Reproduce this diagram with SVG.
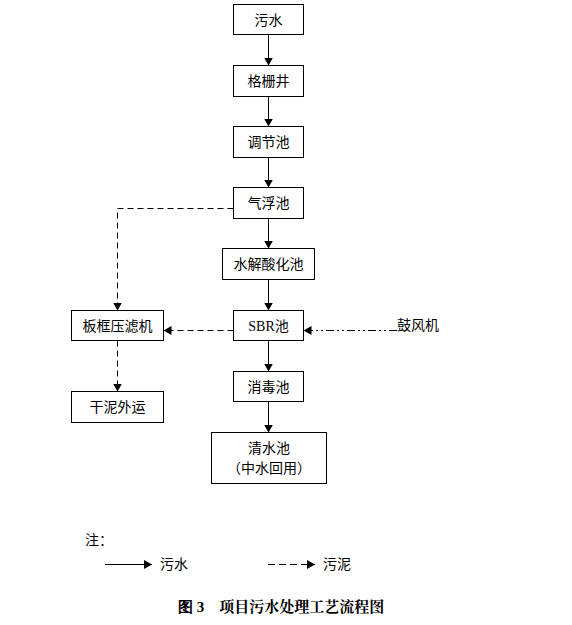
<svg xmlns="http://www.w3.org/2000/svg" width="572" height="625" viewBox="0 0 572 625">
<style>
.box{fill:#fff;stroke:#000;stroke-width:1}
.t{font-family:"Noto Sans CJK SC","Noto Sans",sans-serif;font-size:14px;fill:#000;text-anchor:middle}
.s{stroke:#000;stroke-width:1;fill:none}
.d{stroke:#000;stroke-width:1;fill:none;stroke-dasharray:6,4}
.dd{stroke:#000;stroke-width:1;fill:none;stroke-dasharray:8,3,2,3,2,3}
</style>
<defs>
<marker id="a" markerWidth="9" markerHeight="9" refX="8" refY="4.5" orient="auto" markerUnits="userSpaceOnUse">
<path d="M0,0 L8,4.5 L0,9 Z" fill="#000"/>
</marker>
</defs>
<rect width="572" height="625" fill="#fff"/>
<g id="n1"><rect class="box" x="233.5" y="4.5" width="70" height="30"/><text class="t" x="268.5" y="24.5">污水</text></g>
<g id="n2"><rect class="box" x="233.5" y="65.5" width="70" height="31"/><text class="t" x="268.5" y="86">格栅井</text></g>
<g id="n3"><rect class="box" x="233.5" y="126.5" width="70" height="31"/><text class="t" x="268.5" y="147">调节池</text></g>
<g id="n4"><rect class="box" x="233.5" y="187.5" width="70" height="31"/><text class="t" x="268.5" y="208">气浮池</text></g>
<g id="n5"><rect class="box" x="222.5" y="248.5" width="92" height="31"/><text class="t" x="268.5" y="269">水解酸化池</text></g>
<g id="n6"><rect class="box" x="233.5" y="310.5" width="70" height="30"/><text class="t" x="268.5" y="330.5"><tspan font-family="Liberation Serif,serif">SBR</tspan>池</text></g>
<g id="n7"><rect class="box" x="71.5" y="310.5" width="92" height="30"/><text class="t" x="117.5" y="330.5">板框压滤机</text></g>
<g id="n8"><rect class="box" x="71.5" y="391.5" width="92" height="31"/><text class="t" x="117.5" y="412">干泥外运</text></g>
<g id="n9"><rect class="box" x="233.5" y="371.5" width="70" height="30"/><text class="t" x="268.5" y="391.5">消毒池</text></g>
<g id="n10"><rect class="box" x="211.5" y="432.5" width="115" height="51"/><text class="t" x="269" y="453">清水池</text><text class="t" x="269" y="473">（中水回用）</text></g>
<g id="n11"><text class="t" x="418" y="330" style="text-anchor:middle">鼓风机</text></g>
<g id="connectors">
<line class="s" x1="268.5" y1="34.5" x2="268.5" y2="65.5" marker-end="url(#a)"/>
<line class="s" x1="268.5" y1="96.5" x2="268.5" y2="126.5" marker-end="url(#a)"/>
<line class="s" x1="268.5" y1="157.5" x2="268.5" y2="187.5" marker-end="url(#a)"/>
<line class="s" x1="268.5" y1="218.5" x2="268.5" y2="248.5" marker-end="url(#a)"/>
<line class="s" x1="268.5" y1="279.5" x2="268.5" y2="310.5" marker-end="url(#a)"/>
<line class="s" x1="268.5" y1="340.5" x2="268.5" y2="371.5" marker-end="url(#a)"/>
<line class="s" x1="268.5" y1="401.5" x2="268.5" y2="432.5" marker-end="url(#a)"/>
<polyline class="d" points="233.5,208.5 117.5,208.5 117.5,310.5" marker-end="url(#a)"/>
<line class="d" x1="233.5" y1="330.5" x2="163.5" y2="330.5" marker-end="url(#a)"/>
<line class="d" x1="117.5" y1="340.5" x2="117.5" y2="391.5" marker-end="url(#a)"/>
<line class="dd" x1="397" y1="330.5" x2="303.5" y2="330.5" marker-end="url(#a)"/>
</g>
<g id="legend">
<text class="t" x="85" y="545" style="text-anchor:start">注：</text>
<line class="s" x1="105" y1="564.5" x2="152" y2="564.5" marker-end="url(#a)"/>
<text class="t" x="160" y="569" style="text-anchor:start">污水</text>
<line class="d" x1="268" y1="564.5" x2="315" y2="564.5" marker-end="url(#a)" style="stroke-dasharray:7,4"/>
<text class="t" x="323" y="569" style="text-anchor:start">污泥</text>
<text x="178" y="612" style="font-family:'Noto Serif CJK SC','Noto Sans CJK SC',serif;font-size:15px;font-weight:bold"><tspan font-family="Liberation Serif,serif">图 3</tspan>　项目污水处理工艺流程图</text>
</g>
</svg>
